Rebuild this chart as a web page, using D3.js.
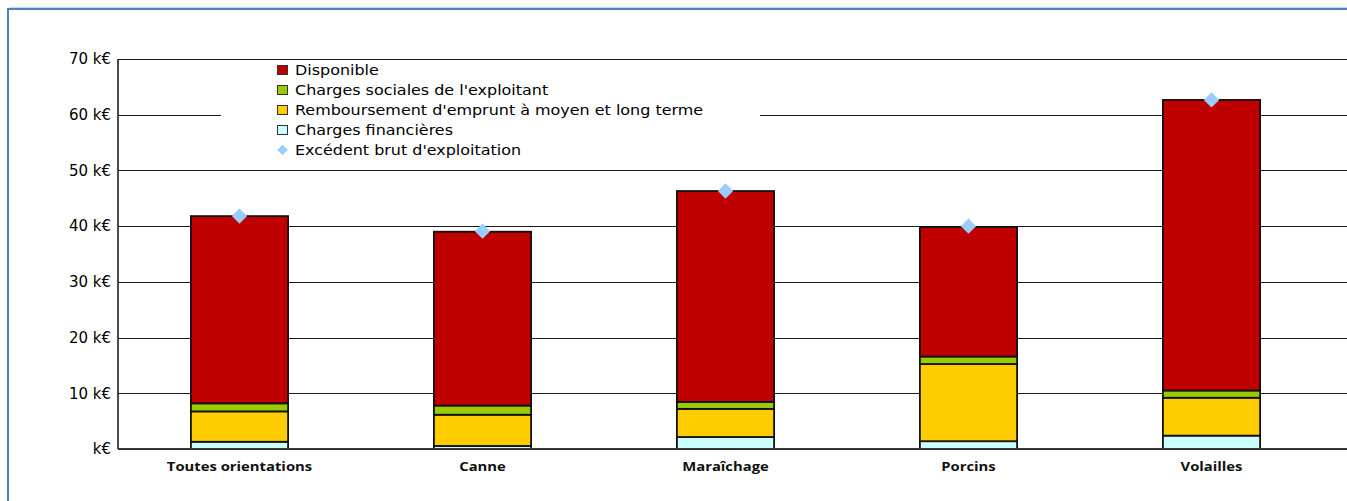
<!DOCTYPE html>
<html>
<head>
<meta charset="utf-8">
<script src="https://cdn.jsdelivr.net/npm/d3@7"></script>
<style>
  body { margin: 0; background: #fff; }
  svg { display: block; }
</style>
</head>
<body>
<div class="wrapper"></div>
<script>
// categories and series (k€)
var categories = ["Toutes orientations", "Canne", "Maraîchage", "Porcins", "Volailles"];
var chargesFin = [1.3, 0.55, 2.15, 1.4, 2.4];
var rembours = [5.45, 5.6, 5.05, 13.85, 6.8];
var chargesSoc = [1.45, 1.65, 1.25, 1.35, 1.3];
var disponible = [33.6, 31.2, 37.85, 23.25, 52.15];
var ebe = [41.8, 39.1, 46.3, 40.0, 62.65];
var yTicks = [0, 10, 20, 30, 40, 50, 60, 70];

var seriesNames = ["Charges financières", "Remboursement d'emprunt à moyen et long terme",
                   "Charges sociales de l'exploitant", "Disponible"];
var seriesColors = ["#ccffff", "#ffcc00", "#99cc00", "#c00000"];

var W = 1347, H = 501;
var plotLeft = 118, plotRight = 1333, plotTop = 59, plotBottom = 449;
var stretch = 1.14; // the reference text is a little wide

var svg = d3.select(".wrapper").append("svg")
    .attr("width", W)
    .attr("height", H);

// outer frame
svg.append("path")
    .attr("d", "M8," + H + "V9H" + W)
    .attr("fill", "none")
    .attr("stroke", "#4f81bd")
    .attr("stroke-width", 2);
svg.append("line")
    .attr("x1", 9).attr("x2", W).attr("y1", 7.5).attr("y2", 7.5)
    .attr("stroke", "#c6d9f1");

var x = d3.scaleBand().domain(categories).range([plotLeft, plotRight]).paddingInner(0.6).paddingOuter(0.3);
var y = d3.scaleLinear().domain([0, 70]).range([plotBottom, plotTop]);

// gridlines
svg.append("g").selectAll("line")
    .data(yTicks.filter(function(d) { return d > 0; }))
    .enter().append("line")
    .attr("x1", plotLeft).attr("x2", W)
    .attr("y1", function(d) { return Math.round(y(d)) + 0.5; })
    .attr("y2", function(d) { return Math.round(y(d)) + 0.5; })
    .attr("stroke", "#1a1a1a")
    .attr("stroke-width", 1);

// y axis labels
var yAxis = d3.axisLeft(y).tickValues(yTicks).tickSize(0).tickPadding(7)
    .tickFormat(function(d) { return d === 0 ? "k€" : d + " k€"; });
var ga = svg.append("g").attr("transform", "translate(" + plotLeft + ",0)").call(yAxis);
ga.select(".domain").remove();
ga.selectAll("text")
    .style("font-family", "DejaVu Sans")
    .style("font-size", "15px")
    .attr("fill", "#000");

// legend box
var lg = svg.append("g");
lg.append("rect")
    .attr("x", 221).attr("y", 60.5)
    .attr("width", 539).attr("height", 104)
    .attr("fill", "#fff");

// stacked bars
var rows = categories.map(function(c, i) {
    return { cat: c, v: [chargesFin[i], rembours[i], chargesSoc[i], disponible[i]] };
});
var bars = svg.append("g");
rows.forEach(function(r) {
    var acc = 0;
    r.v.forEach(function(v, k) {
        bars.append("rect")
            .attr("x", x(r.cat))
            .attr("width", x.bandwidth())
            .attr("y", y(acc + v))
            .attr("height", y(acc) - y(acc + v))
            .attr("fill", seriesColors[k])
            .attr("stroke", "#111")
            .attr("stroke-width", 1.8);
        acc += v;
    });
});

// axes lines
svg.append("line")
    .attr("x1", plotLeft).attr("x2", plotLeft)
    .attr("y1", plotTop).attr("y2", plotBottom)
    .attr("stroke", "#111").attr("stroke-width", 1.5);
svg.append("line")
    .attr("x1", plotLeft).attr("x2", W)
    .attr("y1", plotBottom).attr("y2", plotBottom)
    .attr("stroke", "#333").attr("stroke-width", 2);

// x axis labels
var xAxis = d3.axisBottom(x).tickSize(0).tickPadding(13);
var gx = svg.append("g").attr("transform", "translate(0," + plotBottom + ")").call(xAxis);
gx.select(".domain").remove();
gx.selectAll("text")
    .style("font-family", "Open Sans")
    .style("font-weight", "bold")
    .style("font-size", "13px")
    .attr("fill", "#111")
    .attr("transform", "scale(" + stretch + ",1)");

// EBE diamonds
svg.append("g").selectAll("path")
    .data(categories)
    .enter().append("path")
    .attr("d", d3.symbol().type(d3.symbolDiamond2).size(150))
    .attr("transform", function(d, i) {
        return "translate(" + (x(d) + x.bandwidth() / 2) + "," + y(ebe[i]) + ")";
    })
    .attr("fill", "#99ccff");

// legend entries
var legendItems = [
    { name: seriesNames[3], color: seriesColors[3], type: "rect" },
    { name: seriesNames[2], color: seriesColors[2], type: "rect" },
    { name: seriesNames[1], color: seriesColors[1], type: "rect" },
    { name: seriesNames[0], color: seriesColors[0], type: "rect" },
    { name: "Excédent brut d'exploitation", color: "#99ccff", type: "diamond" }
];
var li = lg.selectAll("g.item")
    .data(legendItems)
    .enter().append("g")
    .attr("class", "item")
    .attr("transform", function(d, i) { return "translate(277," + (70 + i * 20) + ")"; });
li.filter(function(d) { return d.type === "rect"; })
    .append("rect")
    .attr("x", 0.5).attr("y", -4.5)
    .attr("width", 10).attr("height", 9)
    .attr("fill", function(d) { return d.color; })
    .attr("stroke", "#333").attr("stroke-width", 1);
li.filter(function(d) { return d.type === "diamond"; })
    .append("path")
    .attr("d", d3.symbol().type(d3.symbolDiamond2).size(70))
    .attr("transform", "translate(5.5,0)")
    .attr("fill", "#99ccff");
li.append("text")
    .attr("x", 18 / stretch)
    .attr("dy", "0.35em")
    .attr("transform", "scale(" + stretch + ",1)")
    .style("font-family", "DejaVu Sans")
    .style("font-size", "14px")
    .attr("fill", "#000")
    .text(function(d) { return d.name; });
</script>
</body>
</html>
